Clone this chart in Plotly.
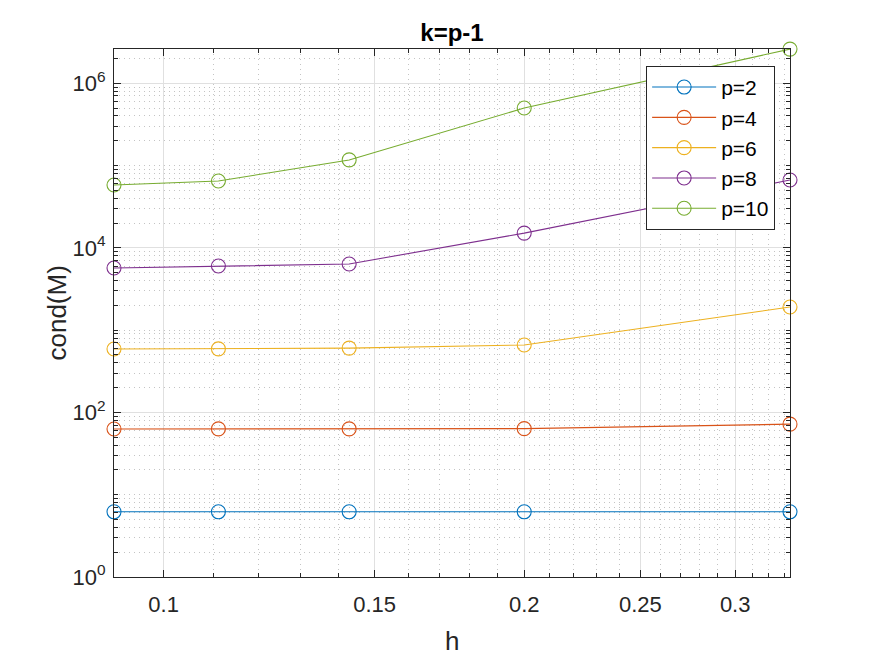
import plotly.graph_objects as go

# mesh sizes and condition numbers
h = [1/11, 1/9, 1/7, 1/5, 1/3]
cond_p2 = [6.2, 6.2, 6.2, 6.2, 6.2]
cond_p4 = [62.9, 63.0, 63.0, 63.5, 72.0]
cond_p6 = [590, 592, 605, 659, 1910]
cond_p8 = [5690, 6010, 6360, 15100, 66700]
cond_p10 = [58000, 64800, 117000, 500000, 2600000]

series_names = ['p=2', 'p=4', 'p=6', 'p=8', 'p=10']
colors = ['#0072BD', '#D95319', '#EDB120', '#7E2F8E', '#77AC30']

x_ticks = [0.1, 0.15, 0.2, 0.25, 0.3]
x_ticktext = ['0.1', '0.15', '0.2', '0.25', '0.3']
y_ticks = [1, 1e2, 1e4, 1e6]
y_ticktext = ['10<sup>0</sup>', '10<sup>2</sup>', '10<sup>4</sup>', '10<sup>6</sup>']

# minor ticks (MATLAB style)
x_minor = [k / 100 for k in range(9, 34) if k not in (10, 15, 20, 25, 30)]
y_minor = [d * 10 ** e for e in range(0, 7) for d in range(1, 10)
           if not (d == 1 and e % 2 == 0)]

FONT = 'Liberation Sans, Arial, sans-serif'

fig = go.Figure()
for name, vals, col in zip(series_names,
                           [cond_p2, cond_p4, cond_p6, cond_p8, cond_p10],
                           colors):
    fig.add_trace(go.Scatter(
        x=h, y=vals, mode='lines+markers', name=name, legendgroup=name,
        line=dict(color=col, width=1.1),
        marker=dict(symbol='circle-open', size=14, color=col,
                    line=dict(width=1.1, color=col)),
        cliponaxis=False,
    ))

# page body has an 8px margin, so the figure is 8px smaller
fig.update_layout(
    width=867, height=648,
    paper_bgcolor='white', plot_bgcolor='white',
    margin=dict(l=106, r=85, t=41, b=79),
    title=dict(text='<b>k=p-1</b>', x=0.5, xref='paper', y=1 - 25 / 648,
               yref='container', yanchor='middle', xanchor='center',
               font=dict(family=FONT, size=24, color='black')),
    font=dict(family=FONT, size=22, color='#262626'),
    legend=dict(x=0.978, y=0.968, xanchor='right', yanchor='top',
                bgcolor='white', bordercolor='#262626', borderwidth=1,
                font=dict(family=FONT, size=21, color='black'),
                itemwidth=64, tracegroupgap=0),
    showlegend=True,
)

fig.add_annotation(text='cond(M)', xref='paper', yref='paper', x=-0.085, y=0.5,
                   xanchor='center', yanchor='middle', textangle=-90, showarrow=False,
                   font=dict(family=FONT, size=26, color='#262626'))
fig.add_annotation(text='h', xref='paper', yref='paper', x=0.5, y=-0.122,
                   xanchor='center', yanchor='middle', showarrow=False,
                   font=dict(family=FONT, size=26, color='#262626'))

fig.update_xaxes(
    type='log', range=[-1.0413928, -0.4771211],
    tickmode='array', tickvals=x_ticks, ticktext=x_ticktext,
    ticks='inside', ticklen=7, tickcolor='#262626', tickwidth=1,
    ticklabelstandoff=8,
    showline=True, linecolor='#262626', linewidth=1, mirror='ticks',
    showgrid=True, gridcolor='#e0e0e0', gridwidth=1,
    minor=dict(tickmode='array', tickvals=x_minor, ticks='inside', ticklen=4,
               tickcolor='#262626', showgrid=True, gridcolor='#c4c4c4',
               griddash='1px,4px', gridwidth=1),
    zeroline=False,
)

fig.update_yaxes(
    type='log', range=[0, 6.416],
    tickmode='array', tickvals=y_ticks, ticktext=y_ticktext,
    ticks='inside', ticklen=7, tickcolor='#262626', tickwidth=1,
    ticklabelstandoff=3,
    showline=True, linecolor='#262626', linewidth=1, mirror='ticks',
    showgrid=True, gridcolor='#e0e0e0', gridwidth=1,
    minor=dict(tickmode='array', tickvals=y_minor, ticks='inside', ticklen=4,
               tickcolor='#262626', showgrid=True, gridcolor='#c4c4c4',
               griddash='1px,4px', gridwidth=1),
    zeroline=False,
)

fig.write_html("out.html")
